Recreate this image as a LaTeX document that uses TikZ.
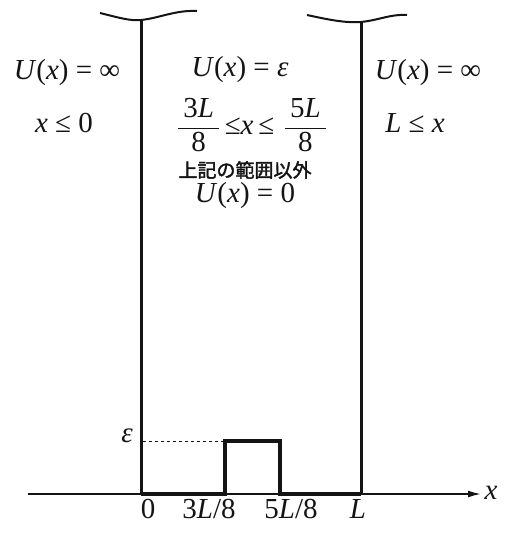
\documentclass[tikz,border=0pt]{standalone}
\usepackage{fontspec}
\setmainfont{Liberation Serif}
\newfontfamily\cjk{Noto Sans CJK JP}[FakeBold=2]
\usepackage{tikz}
\usetikzlibrary{arrows.meta,positioning}
\usepackage{xcolor}
\definecolor{lineblack}{RGB}{20,20,20}
\newcommand{\vi}[1]{\textit{#1}}

\begin{document}
\begin{tikzpicture}[x=1pt,y=-1pt,font=\fontsize{29}{32}\selectfont,text=lineblack]
\useasboundingbox (0,0) rectangle (505,534);
% axis
\draw[-{Latex[length=4.5mm,width=2.4mm]}, line width=1.6pt, draw=lineblack] (28,494) -- (481,494);
\node (xlab) at (491,493) {\vi{x}};
% walls with broken tops
\draw[line width=3pt, draw=lineblack] (141,20) -- (141,494);
\draw[line width=3pt, draw=lineblack] (361,22) -- (361,494);
\draw[line width=2pt, draw=lineblack] (100,13) .. controls (120,18) and (130,21) .. (141,20) .. controls (160,18) and (175,10) .. (197,11);
\draw[line width=2pt, draw=lineblack] (307,15) .. controls (330,20) and (345,23) .. (361,22) .. controls (380,20) and (390,14) .. (407,15);
% potential
\draw[line width=4pt, draw=lineblack] (141,494) -- (225,494) -- (225,441) -- (280,441) -- (280,494) -- (361,494);
\draw[dashed, line width=0.8pt, draw=lineblack] (143,441) -- (223,441);
\node (eps) at (127,436) {\vi{ε}};
% tick labels
\node (l0) at (148,509) {0};
\node (l38) at (209,509) {3\vi{L}/8};
\node (l58) at (291,509) {5\vi{L}/8};
\node (lL) at (358,509) {\vi{L}};
% regions
\node (uleft) at (67,73) {\vi{U}(\vi{x}) = ∞};
\node (cleft) at (64,123) {\vi{x} ≤ 0};
\node (uright) at (428,73) {\vi{U}(\vi{x}) = ∞};
\node (cright) at (415,123) {\vi{L} ≤ \vi{x}};
\node (umid) at (240,70) {\vi{U}(\vi{x}) = \vi{ε}};
\node (cmid) at (252,125) {$\displaystyle\frac{\mbox{\,3\vi{L}\,}}{\mbox{8}}$\,≤\vi{x}\,≤\,\,$\displaystyle\frac{\mbox{\,5\vi{L}\,}}{\mbox{8}}$};
\node[font=\cjk\fontsize{19}{21}\selectfont] (jp) at (245,170) {上記の範囲以外};
\node (uzero) at (245,196) {\vi{U}(\vi{x}) = 0};
\end{tikzpicture}
\end{document}
